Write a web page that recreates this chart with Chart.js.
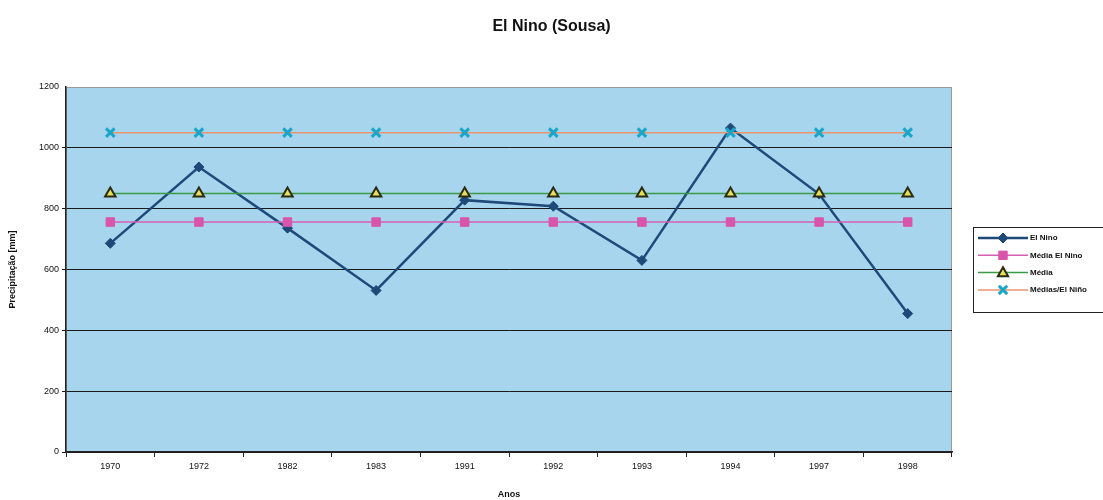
<!DOCTYPE html>
<html>
<head>
<meta charset="utf-8">
<script src="https://cdn.jsdelivr.net/npm/chart.js@4.4.0/dist/chart.umd.min.js"></script>
<style>
html,body{margin:0;padding:0;background:#fff;}
#wrap{width:1103px;height:500px;position:relative;}
</style>
</head>
<body>
<div id="wrap"><canvas id="c" width="1103" height="500"></canvas></div>
<script>
const categories = ['1970','1972','1982','1983','1991','1992','1993','1994','1997','1998'];
const elNino = [686, 937, 736, 531, 828, 808, 630, 1065, 848, 455];
const mediaElNino = [756, 756, 756, 756, 756, 756, 756, 756, 756, 756];
const media = [850, 850, 850, 850, 850, 850, 850, 850, 850, 850];
const mediasElNino = [1050, 1050, 1050, 1050, 1050, 1050, 1050, 1050, 1050, 1050];
const yTicks = [0, 200, 400, 600, 800, 1000, 1200];
const seriesNames = ['El Nino', 'Média El Nino', 'Média', 'Médias/El Niño'];
const chartTitle = 'El Nino (Sousa)';
const yTitle = 'Precipitação [mm]';
const xTitle = 'Anos';

const FONT = "'Liberation Sans', Arial, sans-serif";

const bgPlugin = {
  id: 'bg',
  beforeDraw(chart) {
    const {ctx, chartArea: a} = chart;
    ctx.save();
    ctx.fillStyle = '#a8d5ee';
    ctx.fillRect(a.left, a.top, a.right - a.left, a.bottom - a.top);
    ctx.strokeStyle = '#9a9a9a';
    ctx.lineWidth = 1;
    ctx.strokeRect(a.left + 0.5, a.top + 0.5, a.right - a.left - 1, a.bottom - a.top);
    ctx.restore();
  }
};

const textPlugin = {
  id: 'texts',
  afterDraw(chart) {
    const {ctx, chartArea: a, width} = chart;
    ctx.save();
    ctx.fillStyle = '#111';
    ctx.textAlign = 'center';
    ctx.textBaseline = 'middle';
    ctx.font = 'bold 16px ' + FONT;
    ctx.fillText(chartTitle, width / 2, 27);
    ctx.translate(13, (a.top + a.bottom) / 2);
    ctx.rotate(-Math.PI / 2);
    ctx.font = 'bold 9px ' + FONT;
    ctx.fillText(yTitle, 0, 0);
    ctx.restore();
  }
};

const legendPlugin = {
  id: 'customLegend',
  afterDraw(chart) {
    const {ctx, chartArea: a} = chart;
    const x0 = a.right + 21, y0 = 227, w = 140, h = 85;
    ctx.save();
    ctx.fillStyle = '#ffffff';
    ctx.fillRect(x0, y0, w, h);
    ctx.strokeStyle = '#222';
    ctx.lineWidth = 1;
    ctx.strokeRect(x0 + 0.5, y0 + 0.5, w, h);
    const list = chart.data.datasets.slice().reverse();
    list.forEach((ds, i) => {
      const y = y0 + 11 + i * 17.3;
      ctx.strokeStyle = ds.borderColor;
      ctx.lineWidth = ds.borderWidth;
      ctx.beginPath();
      ctx.moveTo(x0 + 5, y);
      ctx.lineTo(x0 + 55, y);
      ctx.stroke();
      ctx.fillStyle = ds.pointBackgroundColor;
      ctx.strokeStyle = ds.pointBorderColor;
      ctx.lineWidth = ds.pointBorderWidth;
      ctx.beginPath();
      const s = ds.pointStyle, r = ds.pointRadius, cx = x0 + 30;
      if (s === 'rectRot') { ctx.moveTo(cx, y - r); ctx.lineTo(cx + r, y); ctx.lineTo(cx, y + r); ctx.lineTo(cx - r, y); ctx.closePath(); ctx.fill(); ctx.stroke(); }
      else if (s === 'rect') { ctx.rect(cx - r*0.7, y - r*0.7, r*1.4, r*1.4); ctx.fill(); ctx.stroke(); }
      else if (s === 'triangle') { ctx.moveTo(cx, y - r*0.9); ctx.lineTo(cx + r*0.85, y + r*0.6); ctx.lineTo(cx - r*0.85, y + r*0.6); ctx.closePath(); ctx.fill(); ctx.stroke(); }
      else { const d = r*0.7; ctx.moveTo(cx-d,y-d); ctx.lineTo(cx+d,y+d); ctx.moveTo(cx+d,y-d); ctx.lineTo(cx-d,y+d); ctx.stroke(); }
      ctx.fillStyle = '#111';
      ctx.font = 'bold 8px ' + FONT;
      ctx.textAlign = 'left';
      ctx.textBaseline = 'middle';
      ctx.fillText(ds.label, x0 + 57, y);
    });
    ctx.restore();
  }
};

const ds = (label, data, line, ptStyle, ptFill, ptBorder, lw, pr, pbw) => ({
  label, data,
  borderColor: line, borderWidth: lw,
  pointStyle: ptStyle, pointRadius: pr, pointHoverRadius: pr,
  pointBackgroundColor: ptFill, pointBorderColor: ptBorder, pointBorderWidth: pbw,
  tension: 0, fill: false
});

new Chart(document.getElementById('c'), {
  type: 'line',
  data: {
    labels: categories,
    datasets: [
      ds(seriesNames[3], mediasElNino, '#e8956e', 'crossRot', '#1aa6c9', '#1aa6c9', 1.5, 6, 3),
      ds(seriesNames[2], media, '#3a9a46', 'triangle', '#e6e05a', '#2b2b10', 1.5, 6, 2),
      ds(seriesNames[1], mediaElNino, '#d460b4', 'rect', '#d955ab', '#d955ab', 1.5, 6, 1),
      ds(seriesNames[0], elNino, '#1d4a78', 'rectRot', '#1d4a78', '#1d4a78', 2.5, 5, 1)
    ]
  },
  options: {
    responsive: false,
    animation: false,
    events: [],
    layout: { padding: { left: 0, right: 151, top: 87, bottom: 0 } },
    plugins: {
      legend: { display: false },
      tooltip: { enabled: false },
      title: { display: false }
    },
    scales: {
      x: {
        offset: true,
        grid: { display: true, drawOnChartArea: false, drawTicks: true, tickLength: 5, color: '#222', offset: true },
        border: { display: true, color: '#222', width: 1.5 },
        ticks: { color: '#111', font: { family: FONT, size: 9 }, padding: 4, maxRotation: 0, autoSkip: false },
        title: { display: true, text: xTitle, color: '#111', font: { family: FONT, size: 9, weight: 'bold' }, padding: { top: 12, bottom: 0 } },
        afterFit(s) { s.height = 48; }
      },
      y: {
        min: 0, max: 1200,
        afterBuildTicks(s) { s.ticks = yTicks.map(v => ({ value: v })); },
        grid: {
          color: c => (c.tick && c.tick.value === 1200) ? 'rgba(0,0,0,0)' : '#1a1a1a',
          lineWidth: 1, drawTicks: true, tickLength: 4
        },
        border: { display: true, color: '#222', width: 1.5 },
        ticks: { color: '#111', font: { family: FONT, size: 9 }, padding: 3, callback: v => String(v) },
        title: { display: false },
        afterFit(s) { s.width = 66; }
      }
    }
  },
  plugins: [bgPlugin, legendPlugin, textPlugin]
});
</script>
</body>
</html>
